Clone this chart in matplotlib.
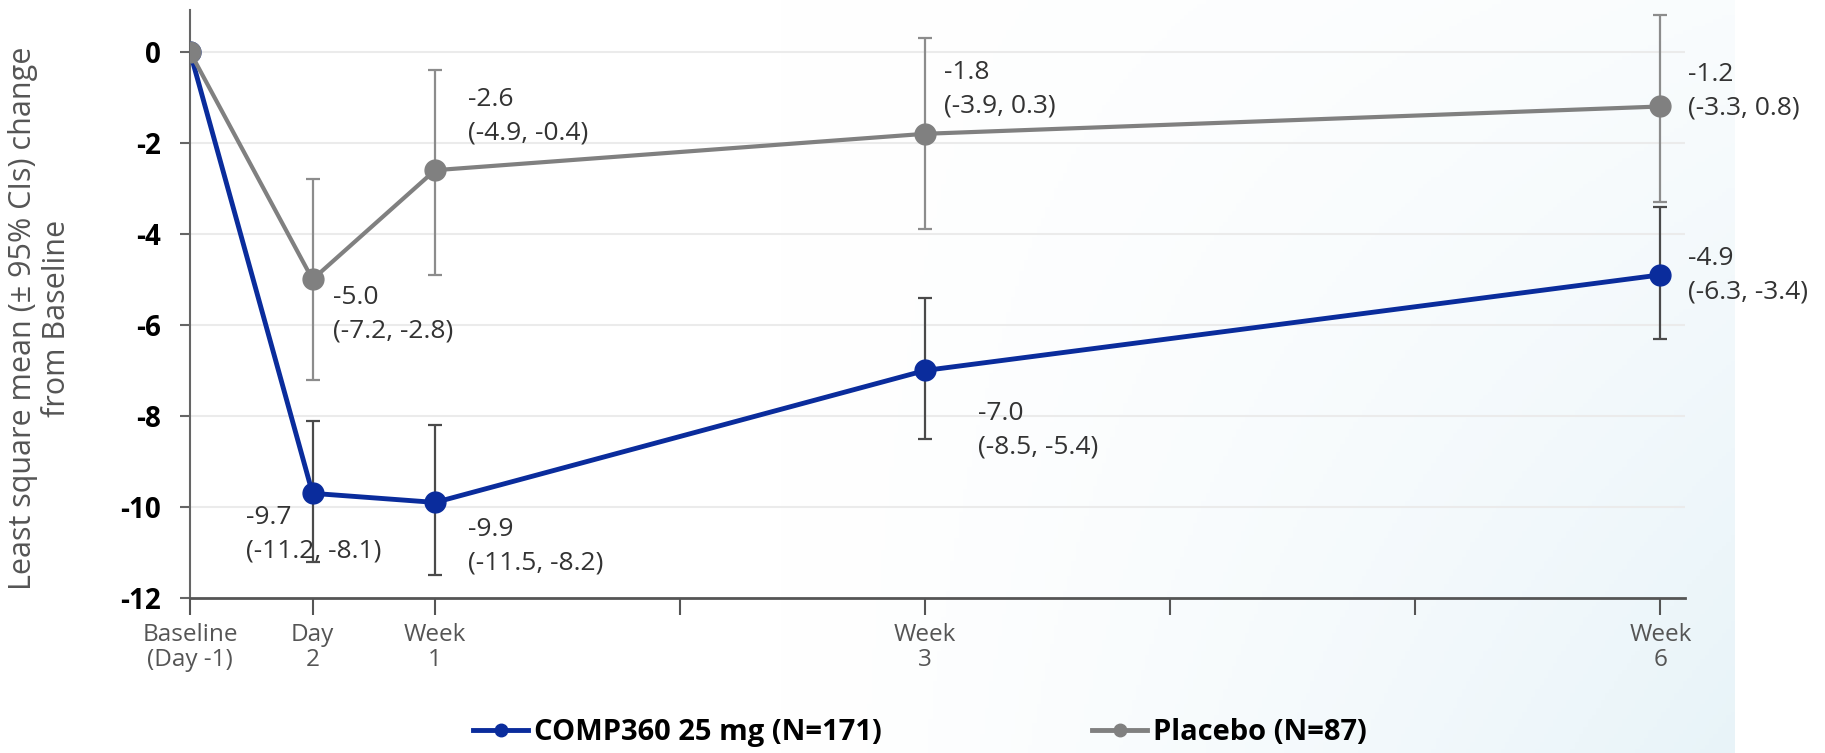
import numpy as np
import matplotlib
matplotlib.use("Agg")
import matplotlib.pyplot as plt
from matplotlib.lines import Line2D

plt.rcParams['font.family'] = ['Open Sans', 'DejaVu Sans']

# time points (weeks from baseline) and their labels
timepoints = [0, 0.5, 1, 3, 6]
tick_pos = [0, 0.5, 1, 2, 3, 4, 5, 6]
tick_labels = ["Baseline\n(Day -1)", "Day\n2", "Week\n1", "", "Week\n3", "", "", "Week\n6"]

# COMP360 25 mg
comp_mean = [0, -9.7, -9.9, -7.0, -4.9]
comp_lo = [0, -11.2, -11.5, -8.5, -6.3]
comp_hi = [0, -8.1, -8.2, -5.4, -3.4]

# Placebo
plac_mean = [0, -5.0, -2.6, -1.8, -1.2]
plac_lo = [0, -7.2, -4.9, -3.9, -3.3]
plac_hi = [0, -2.8, -0.4, 0.3, 0.8]

comp_name = "COMP360 25 mg (N=171)"
plac_name = "Placebo (N=87)"

# label offsets in pixels (skip baseline)
comp_offsets = [None, (-67, -41), (33, -44), (53, -60), (28, 0)]
plac_offsets = [None, (20, -35), (33, 54), (19, 45), (28, 15)]

blue = "#0a2c9c"
grey = "#808080"

fig = plt.figure(figsize=(18.25, 7.53), dpi=100)

# faint blue wash in the lower right, like the slide background
bg = fig.add_axes([0, 0, 1735 / 1825, 1], zorder=-5)
u = np.linspace(0, 1, 400)[None, :]
v = np.linspace(0, 1, 200)[:, None]
t = np.clip((u - 0.45) / 0.55, 0, 1) ** 1.3 * (0.25 + 0.75 * v)
tint = np.array([0.91, 0.955, 0.975])
img = 1 - t[..., None] * (1 - tint[None, None, :])
bg.imshow(img, aspect='auto', extent=[0, 1, 0, 1])
bg.axis('off')

ax = fig.add_axes([190 / 1825, 1 - 598 / 753, (1685 - 190) / 1825, (598 - 10) / 753])
ax.set_facecolor('none')

# placebo drawn after so its baseline dot sits on top
ci_c = [np.array(comp_mean) - np.array(comp_lo), np.array(comp_hi) - np.array(comp_mean)]
ax.errorbar(timepoints[1:], comp_mean[1:], yerr=[ci_c[0][1:], ci_c[1][1:]], fmt='none',
            ecolor="#4a4a4a", elinewidth=1.6, capsize=5, capthick=1.6, zorder=3)
ax.plot(timepoints, comp_mean, color=blue, lw=3.5, marker='o', markersize=15, zorder=4)

ci_p = [np.array(plac_mean) - np.array(plac_lo), np.array(plac_hi) - np.array(plac_mean)]
ax.errorbar(timepoints[1:], plac_mean[1:], yerr=[ci_p[0][1:], ci_p[1][1:]], fmt='none',
            ecolor="#8c8c8c", elinewidth=1.6, capsize=5, capthick=1.6, zorder=5)
ax.plot(timepoints, plac_mean, color=grey, lw=3, marker='o', markersize=15, zorder=6)

# value labels
for means, los, his, offs in [(comp_mean, comp_lo, comp_hi, comp_offsets),
                              (plac_mean, plac_lo, plac_hi, plac_offsets)]:
    for i in range(1, len(timepoints)):
        txt = f"{means[i]:.1f}\n({los[i]:.1f}, {his[i]:.1f})"
        ax.annotate(txt, (timepoints[i], means[i]), xytext=offs[i], textcoords='offset pixels',
                    ha='left', va='center', fontsize=19, color="#333333", linespacing=1.45, zorder=8)

ax.set_xlim(0, 6.1)
ax.set_ylim(-12, 0.92)
ax.set_yticks([0, -2, -4, -6, -8, -10, -12])
ax.set_yticklabels(["0", "-2", "-4", "-6", "-8", "-10", "-12"], fontsize=20, fontweight='bold', color='black')
ax.set_xticks(tick_pos)
ax.set_xticklabels(tick_labels, fontsize=17.5, color="#555555", linespacing=1.05)

for y in [0, -2, -4, -6, -8, -10]:
    ax.axhline(y, color="#ebebeb", lw=1.5, zorder=1)

ax.spines['top'].set_visible(False)
ax.spines['right'].set_visible(False)
ax.spines['left'].set_color("#666666")
ax.spines['left'].set_linewidth(1.5)
ax.spines['bottom'].set_color("#555555")
ax.spines['bottom'].set_linewidth(2)
ax.tick_params(axis='x', length=12, width=1.5, color="#555555", pad=6)
ax.tick_params(axis='y', length=7, width=1.5, color="#666666", pad=14)

fig.text(40 / 1825, 1 - 318 / 753, "Least square mean (\u00b1 95% CIs) change\nfrom Baseline",
         rotation=90, ha='center', va='center', fontsize=22, color="#555555", linespacing=1.15)

handles = [Line2D([0], [0], color=blue, lw=3.5, marker='o', markersize=9),
           Line2D([0], [0], color=grey, lw=3.5, marker='o', markersize=9)]
fig.legend(handles, [comp_name, plac_name], loc='center', bbox_to_anchor=(0.504, 0.027), ncol=2,
           frameon=False, borderpad=0, handlelength=1.9, handletextpad=0.2, columnspacing=7.2,
           prop={'weight': 'bold', 'size': 21})

fig.savefig("out.png", dpi=100)
